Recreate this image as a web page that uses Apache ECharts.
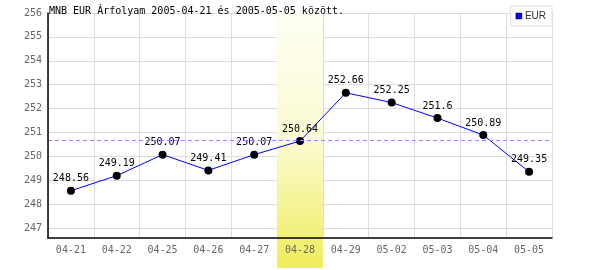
<!DOCTYPE html>
<html><head><meta charset="utf-8">
<script src="https://cdn.jsdelivr.net/npm/echarts@6/dist/echarts.min.js"></script>
<style>html,body{margin:0;padding:0;background:#fff}#c{width:600px;height:270px}</style>
</head><body><div id="c"></div>
<script>
var categories = ['04-21','04-22','04-25','04-26','04-27','04-28','04-29','05-02','05-03','05-04','05-05'];
var eurValues = [248.56, 249.19, 250.07, 249.41, 250.07, 250.64, 252.66, 252.25, 251.6, 250.89, 249.35];
var yTicks = [247, 248, 249, 250, 251, 252, 253, 254, 255, 256];
var highlightCategory = '04-28';
var referenceValue = 250.66;
var titleText = 'MNB EUR Árfolyam 2005-04-21 és 2005-05-05 között.';
var seriesName = 'EUR';

var mono = 'DejaVu Sans Mono';
var bandData = categories.map(function (c) { return c === highlightCategory ? 1 : null; });

var chart = echarts.init(document.getElementById('c'), null, {renderer: 'canvas'});
chart.setOption({
  animation: false,
  backgroundColor: '#fff',
  title: {
    text: titleText, left: 49, top: 6, padding: 0,
    textStyle: {fontFamily: mono, fontSize: 10, fontWeight: 'normal', color: '#000'}
  },
  legend: {
    data: [{name: seriesName, icon: 'rect', itemStyle: {color: '#0000ff', borderColor: '#000033', borderWidth: 0.5}}],
    right: 48, top: 6, padding: [5, 6, 5, 5], itemWidth: 6, itemHeight: 6, itemGap: 2,
    borderColor: '#dddddd', borderWidth: 1, backgroundColor: '#fff',
    textStyle: {fontFamily: 'Liberation Sans', fontSize: 10, color: '#333', padding: [0, 0, 0, -2]}
  },
  grid: [
    {left: 48, right: 48, top: 13, bottom: 32, containLabel: false},
    {left: 48, right: 48, top: 13, bottom: 2, containLabel: false}
  ],
  xAxis: [
    {gridIndex: 0, type: 'category', data: categories, boundaryGap: true, z: 0,
     axisLine: {show: false}, axisTick: {show: false}, axisLabel: {show: false},
     splitLine: {show: true, lineStyle: {color: '#dddddd', width: 1}}},
    {gridIndex: 1, type: 'category', data: categories, boundaryGap: true, show: false},
    {gridIndex: 0, type: 'category', data: categories, boundaryGap: true, position: 'bottom', z: 5,
     axisLine: {show: true, lineStyle: {color: '#000', width: 1.5}}, axisTick: {show: false},
     splitLine: {show: false},
     axisLabel: {show: true, margin: 7, fontFamily: mono, fontSize: 10, color: '#666'}}
  ],
  yAxis: [
    {gridIndex: 0, type: 'value', min: 246.58, max: 256, z: 0,
     axisLine: {show: false}, axisTick: {show: false, customValues: yTicks},
     axisLabel: {show: true, customValues: yTicks, margin: 6, fontFamily: mono, fontSize: 10, color: '#666'},
     splitLine: {show: true, lineStyle: {color: '#dddddd', width: 1}}},
    {gridIndex: 1, type: 'value', min: 0, max: 1, show: false},
    {gridIndex: 0, type: 'value', min: 246.58, max: 256, position: 'left', z: 5,
     axisLine: {show: true, lineStyle: {color: '#000', width: 1.5}}, axisTick: {show: false},
     axisLabel: {show: false}, splitLine: {show: false}}
  ],
  series: [
    {type: 'line', xAxisIndex: 0, yAxisIndex: 0, data: [], z: 0.5, silent: true,
     markLine: {silent: true, symbol: 'none', label: {show: false},
                lineStyle: {color: '#8888ff', type: [4, 3], width: 1},
                data: [{yAxis: referenceValue}]}},
    {type: 'bar', xAxisIndex: 1, yAxisIndex: 1, data: bandData, barWidth: '100%', barCategoryGap: 0,
     silent: true, z: 1,
     itemStyle: {color: new echarts.graphic.LinearGradient(0, 0, 0, 1, [
       {offset: 0, color: '#fffff4'}, {offset: 0.5, color: '#fbfbd2'}, {offset: 1, color: '#efed5a'}])}},
    {name: seriesName, type: 'line', xAxisIndex: 0, yAxisIndex: 0, data: eurValues, z: 3,
     symbol: 'circle', symbolSize: 8,
     lineStyle: {color: '#0000ff', width: 1},
     itemStyle: {color: '#000'},
     label: {show: true, position: 'top', distance: 3, fontFamily: mono, fontSize: 10, color: '#000',
             formatter: function (p) { return String(p.value); }}}
  ]
});
</script></body></html>
